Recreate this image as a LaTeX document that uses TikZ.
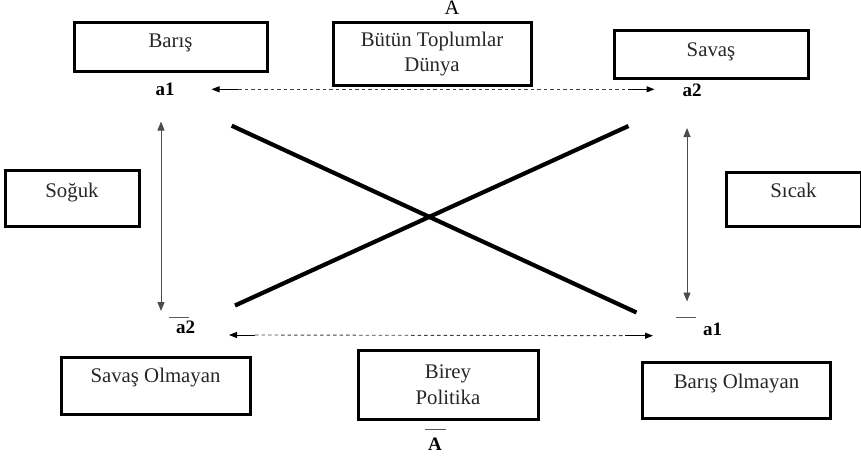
\documentclass[tikz,border=0pt]{standalone}
\usepackage{fontspec}
\setmainfont{Liberation Serif}
\usetikzlibrary{arrows.meta}
\begin{document}
\begin{tikzpicture}[x=1pt,y=-1pt,
  box/.style={draw=black, line width=3pt, inner xsep=0pt, inner ysep=0pt,
    font=\fontsize{20.8}{25.5}\selectfont, text=black!85},
  onebox/.style n args={3}{box, minimum width=#1, text height=#2, text depth=#3},
  twobox/.style n args={2}{box, align=center, minimum width=#1, minimum height=#2},
  lbl/.style={font=\fontsize{19}{22}\selectfont\bfseries, inner sep=0pt, anchor=base},
  bar/.style={line width=1.1pt, black!65},
  vconn/.style={line width=0.9pt, black!70, {Triangle[length=9pt,width=7pt]}-{Triangle[length=9pt,width=7pt]}},
  dconn/.style={line width=0.9pt, black!75, dash pattern=on 3.5pt off 3pt},
  tipconn/.style={line width=1pt, black, -{Triangle[length=8pt,width=6pt]}},
  cross/.style={line width=4.2pt, black}]
\useasboundingbox (0,0) rectangle (861,460);

% boxes
\node[onebox={193}{24.7}{23.3}] (baris) at (170.5,47) {Barış};
\node[twobox={198}{62}] (butun) at (432,54) {Bütün Toplumlar\\Dünya};
\node[onebox={194}{25.7}{21.3}] (savas) at (711,54.5) {Savaş};
\node[onebox={134}{27.3}{28.7}] (soguk) at (72,198) {Soğuk};
\node[onebox={135}{25.3}{28.7}] (sicak) at (793.5,199) {Sıcak};
\node[onebox={189}{25.7}{31.3}] (savasol) at (155.5,385.5) {Savaş Olmayan};
\node[twobox={180}{69}] (birey) at (448,384.5) {Birey\\Politika};
\node[onebox={188}{26}{30}] (barisol) at (736.5,390) {Barış Olmayan};

% labels
\node[font=\fontsize{20.5}{25}\selectfont, inner sep=0pt, anchor=base] (topA) at (452,15) {A};
\node[lbl] (la1) at (165,95) {a1};
\node[lbl] (la2) at (692,96) {a2};
\node[lbl] (lna2) at (185.5,333.5) {a2};
\node[lbl] (lna1) at (712.5,335) {a1};
\node[lbl] (lnA) at (435,450) {A};
\draw[bar] (169,317.3) -- (189,317.3);
\draw[bar] (676,317.7) -- (696,317.7);
\draw[bar] (425,429.3) -- (446,429.3);

% connector end points
\coordinate (ltop) at (161,121.5);
\coordinate (lbot) at (161,311);
\coordinate (rtop) at (687,128);
\coordinate (rbot) at (687,301.5);
\coordinate (ttipL) at (211.5,89.3);
\coordinate (tsolL) at (238,89.3);
\coordinate (tsolR) at (628,89.3);
\coordinate (ttipR) at (654.5,89.3);
\coordinate (btipL) at (229,335);
\coordinate (bsolL) at (255,335);
\coordinate (bsolR) at (625,335.7);
\coordinate (btipR) at (653,335.7);
\coordinate (x1a) at (231.7,125.7);
\coordinate (x1b) at (636.5,312.5);
\coordinate (x2a) at (235,305.5);
\coordinate (x2b) at (628.5,126);

% vertical double arrows
\draw[vconn] (ltop) -- (lbot);
\draw[vconn] (rtop) -- (rbot);

% dashed horizontal arrows
\draw[dconn] (tsolL) -- (tsolR);
\draw[tipconn] (tsolL) -- (ttipL);
\draw[tipconn] (tsolR) -- (ttipR);
\draw[dconn] (bsolL) -- (bsolR);
\draw[tipconn] (bsolL) -- (btipL);
\draw[tipconn] (bsolR) -- (btipR);

% crossing lines
\draw[cross] (x1a) -- (x1b);
\draw[cross] (x2a) -- (x2b);
\end{tikzpicture}
\end{document}
